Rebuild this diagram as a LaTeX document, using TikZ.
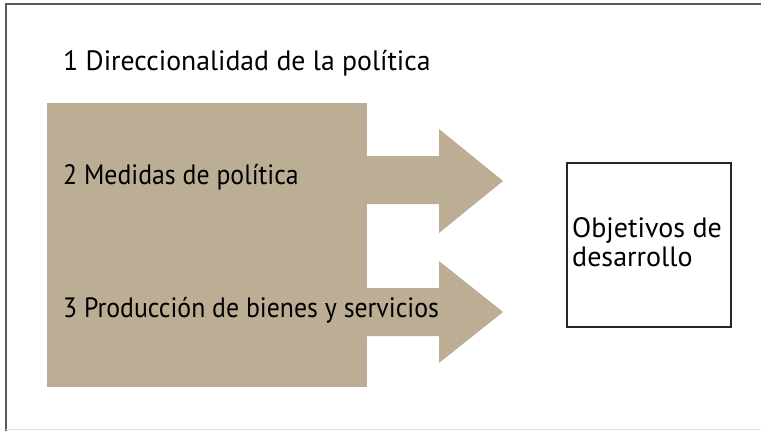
\documentclass[tikz,border=0pt]{standalone}
\usepackage{fontspec}
\setmainfont{PT Sans}
\definecolor{tan}{RGB}{188,174,148}
\definecolor{frame}{RGB}{90,90,90}
\begin{document}
\begin{tikzpicture}[x=1pt,y=-1pt,
  lbl/.style={anchor=west,inner sep=0pt,font=\fontsize{28}{28.5}\selectfont},
  tanfill/.style={fill=tan,draw=none}]
\useasboundingbox (0,0) rectangle (761,431);
\fill[white] (0,0) rectangle (761,431);
% outer frame
\draw[frame,line width=2.2pt] (761,4) -- (6,4) -- (6,431);
\draw[gray!25,line width=1pt] (6,429.5) -- (761,429.5);
% tan block
\node[tanfill,inner sep=0pt,minimum width=320pt,minimum height=284pt,anchor=north west] (blk) at (47,103) {};
% arrows
\fill[tan] (366,156) -- (439,156) -- (439,129) -- (503,181) -- (439,233) -- (439,204) -- (366,204) -- cycle;
\fill[tan] (366,288) -- (439,288) -- (439,261) -- (503,312) -- (439,363) -- (439,336) -- (366,336) -- cycle;
% objectives box
\node[draw=black!85,line width=1.6pt,minimum width=164pt,minimum height=164pt,anchor=north west,inner sep=0pt] (obj) at (566,162) {};
\node[lbl,align=left] (objt) at (572,242) {Objetivos de\\desarrollo};
% labels
\node[lbl] (l1) at (63,63) {\scalebox{0.99}[1]{1 Direccionalidad de la política}};
\node[lbl] (l2) at (63,177) {\scalebox{0.92}[1]{2 Medidas de política}};
\node[lbl] (l3) at (63,310) {\scalebox{0.92}[1]{3 Producción de bienes y servicios}};
\end{tikzpicture}
\end{document}
